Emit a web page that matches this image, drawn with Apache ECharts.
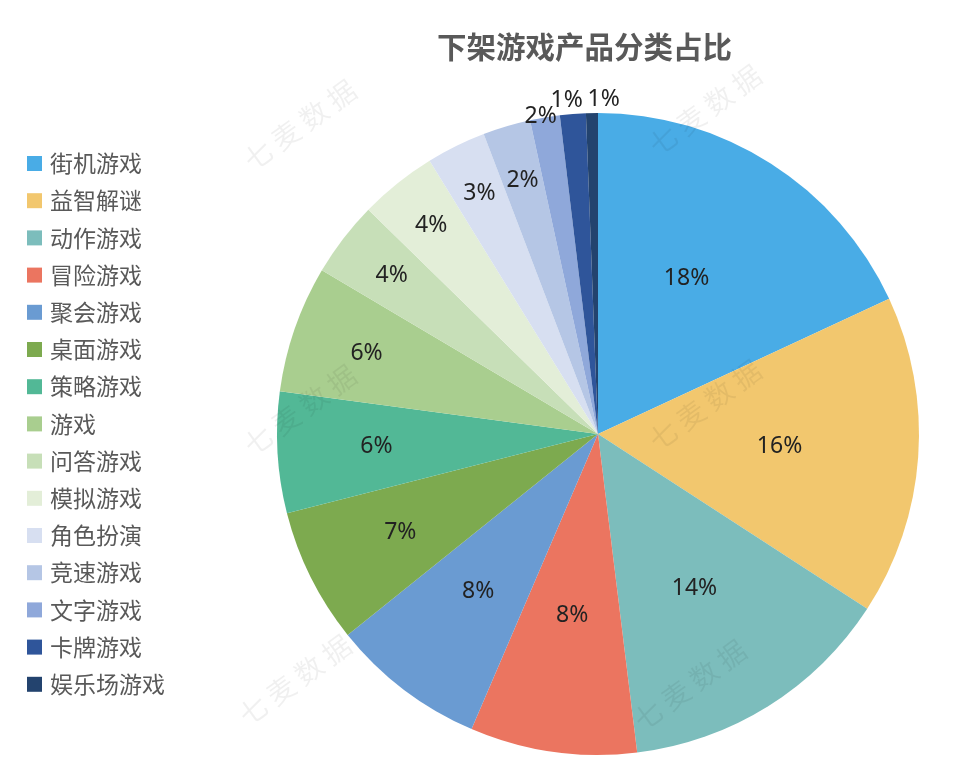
<!DOCTYPE html>
<html>
<head>
<meta charset="utf-8">
<script src="https://cdn.jsdelivr.net/npm/echarts@6/dist/echarts.min.js"></script>
<style>
html,body{margin:0;padding:0;background:#fff;}
#c{width:976px;height:772px;}
</style>
</head>
<body>
<div id="c"></div>
<script>
// ---- data ----
const categories = ['街机游戏','益智解谜','动作游戏','冒险游戏','聚会游戏','桌面游戏','策略游戏','游戏','问答游戏','模拟游戏','角色扮演','竞速游戏','文字游戏','卡牌游戏','娱乐场游戏'];
const shares = [18.1, 16.1, 13.9, 8.4, 7.8, 6.8, 6.1, 6.4, 3.8, 3.9, 3.0, 2.4, 1.5, 1.3, 0.6];
const titleText = '下架游戏产品分类占比';

// ---- style ----
const colors = ['#49ACE6','#F2C76E','#7CBDBC','#EB7560','#6A9BD2','#7DAA4F','#52B896','#A9CE8F','#C7DFB8','#E3EED8','#D7DFF1','#B5C6E5','#8FA8DA','#2F559A','#23436E'];
const labelRadius = [185,182,182,183,198,221,222,245,260,267,268,265,322,335,335];
const labelNudgeX = [-11,0,0,0,0,0,0,0,0,0,0,0,-4,-5,12];
const CX = 598, CY = 434, R = 321;

const chart = echarts.init(document.getElementById('c'), null, {renderer:'canvas'});

const wm = [];
[[300,125],[705,110],[300,410],[705,405],[295,680],[690,685]].forEach(function(p){
  wm.push({
    type:'text', x:p[0], y:p[1], rotation: Math.PI/5, z: 100, silent:true,
    style:{text:'七 麦 数 据', fill:'rgba(0,0,0,0.06)', font:'28px "Noto Sans CJK SC"', align:'center', verticalAlign:'middle'}
  });
});

chart.setOption({
  backgroundColor:'#fff',
  color: colors,
  animation:false,
  title:{
    text: titleText,
    left: 432, top: 27,
    textStyle:{fontFamily:'"Noto Sans CJK SC"', fontSize:29.5, fontWeight:'bold', color:'#595959'}
  },
  legend:{
    orient:'vertical', left:27, top:152, padding:0,
    itemWidth:15, itemHeight:15, itemGap:14.2, icon:'rect',
    textStyle:{fontFamily:'"Noto Sans CJK SC"', fontSize:23, lineHeight:23, color:'#595959', padding:[0,0,0,3]},
    data: categories
  },
  graphic: wm,
  series:[{
    type:'pie',
    center:[CX, CY],
    radius:[0, R],
    startAngle:90,
    clockwise:true,
    avoidLabelOverlap:false,
    itemStyle:{borderWidth:0},
    label:{
      show:true, position:'inside',
      fontFamily:'"Noto Sans", "Noto Sans CJK SC"', fontSize:23, color:'#222',
      formatter:function(p){return Math.round(p.percent)+'%';}
    },
    labelLine:{show:false},
    labelLayout:function(params){
      const lr = params.labelRect;
      const x = lr.x + lr.width/2, y = lr.y + lr.height/2;
      const dx = x - CX, dy = y - CY;
      const d = Math.sqrt(dx*dx+dy*dy) || 1;
      const i = params.dataIndex;
      const rr = labelRadius[i];
      return {x: CX + dx/d*rr + labelNudgeX[i], y: CY + dy/d*rr};
    },
    emphasis:{disabled:true},
    data: categories.map(function(n,i){return {name:n, value:shares[i]};})
  }]
});
</script>
</body>
</html>
